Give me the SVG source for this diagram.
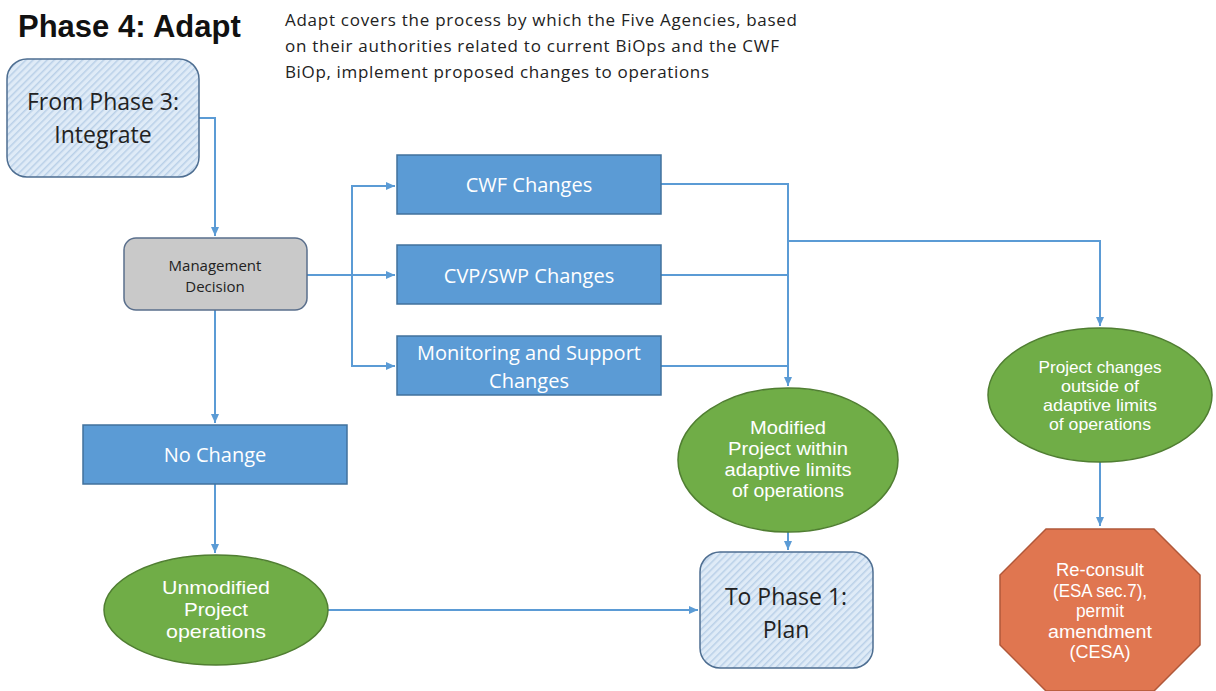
<svg xmlns="http://www.w3.org/2000/svg" width="1216" height="691" viewBox="0 0 1216 691">
<style>
text{font-family:"Open Sans","Liberation Sans",sans-serif;text-anchor:middle}
.conn{fill:none;stroke:#5b9bd5;stroke-width:2}
.blue{fill:#5b9bd5;stroke:#41719c;stroke-width:1.5}
.green{fill:#70ad47;stroke:#507e32;stroke-width:1.5}
.hatch{fill:url(#hp);stroke:#4e6e91;stroke-width:1.5}
.wt{fill:#fff;font-size:20px}
.ws{fill:#fff;font-family:"Liberation Sans",sans-serif}
.bt{fill:#222;font-size:23px}
</style>
<defs>
<pattern id="hp" width="5" height="5" patternUnits="userSpaceOnUse" patternTransform="rotate(45)">
<rect width="5" height="5" fill="#dfebf7"/>
<rect width="1.5" height="5" fill="#b9d0e8"/>
</pattern>
<marker id="ah" markerWidth="10" markerHeight="10" refX="9" refY="5" orient="auto" markerUnits="userSpaceOnUse">
<path d="M0,1 L9,5 L0,9 z" fill="#5b9bd5"/>
</marker>
</defs>
<rect width="1216" height="691" fill="#fff"/>
<g id="title">
<text x="18" y="37" style="text-anchor:start;font-family:'Liberation Sans',sans-serif;font-weight:bold;font-size:31px;fill:#111">Phase 4: Adapt</text>
</g>
<g id="desc" style="font-size:17px;fill:#222">
<text x="285" y="26" style="text-anchor:start" textLength="512">Adapt covers the process by which the Five Agencies, based</text>
<text x="285" y="52" style="text-anchor:start" textLength="494">on their authorities related to current BiOps and the CWF</text>
<text x="285" y="78" style="text-anchor:start" textLength="424">BiOp, implement proposed changes to operations</text>
</g>
<g id="connectors">
<path class="conn" d="M199,118 H215 V236" marker-end="url(#ah)"/>
<path class="conn" d="M307,275 H395" marker-end="url(#ah)"/>
<path class="conn" d="M352,275 V186 H395" marker-end="url(#ah)"/>
<path class="conn" d="M352,275 V366 H395" marker-end="url(#ah)"/>
<path class="conn" d="M661,184 H788 V386" marker-end="url(#ah)"/>
<path class="conn" d="M661,275 H788"/>
<path class="conn" d="M661,366 H788"/>
<path class="conn" d="M788,241 H1100 V326" marker-end="url(#ah)"/>
<path class="conn" d="M1100,462 V526" marker-end="url(#ah)"/>
<path class="conn" d="M788,532 V550" marker-end="url(#ah)"/>
<path class="conn" d="M215,310 V423" marker-end="url(#ah)"/>
<path class="conn" d="M215,484 V553" marker-end="url(#ah)"/>
<path class="conn" d="M328,610 H698" marker-end="url(#ah)"/>
</g>
<g id="from-phase3">
<rect class="hatch" x="7" y="59" width="192" height="118" rx="20"/>
<text class="bt" x="103" y="110">From Phase 3:</text>
<text class="bt" x="103" y="143">Integrate</text>
</g>
<g id="mgmt">
<rect x="124" y="238" width="183" height="72" rx="12" fill="#c9c9c9" stroke="#5a6f8c" stroke-width="1.5"/>
<text x="215" y="271" style="font-size:15px;fill:#222">Management</text>
<text x="215" y="292" style="font-size:15px;fill:#222">Decision</text>
</g>
<g id="cwf">
<rect class="blue" x="397" y="155" width="264" height="59"/>
<text class="wt" x="529" y="192">CWF Changes</text>
</g>
<g id="cvp">
<rect class="blue" x="397" y="245" width="264" height="59"/>
<text class="wt" x="529" y="283">CVP/SWP Changes</text>
</g>
<g id="monitoring">
<rect class="blue" x="397" y="336" width="264" height="59"/>
<text class="wt" x="529" y="360">Monitoring and Support</text>
<text class="wt" x="529" y="388">Changes</text>
</g>
<g id="nochange">
<rect class="blue" x="83" y="425" width="264" height="59"/>
<text class="wt" x="215" y="462">No Change</text>
</g>
<g id="unmodified">
<ellipse class="green" cx="216" cy="610" rx="112" ry="55"/>
<text class="ws" x="216" y="594" style="font-size:19px" textLength="108" lengthAdjust="spacingAndGlyphs">Unmodified</text>
<text class="ws" x="216" y="616" style="font-size:19px" textLength="64" lengthAdjust="spacingAndGlyphs">Project</text>
<text class="ws" x="216" y="638" style="font-size:19px" textLength="100" lengthAdjust="spacingAndGlyphs">operations</text>
</g>
<g id="modified">
<ellipse class="green" cx="788" cy="460" rx="110" ry="72"/>
<text class="ws" x="788" y="434" style="font-size:18px" textLength="76" lengthAdjust="spacingAndGlyphs">Modified</text>
<text class="ws" x="788" y="455" style="font-size:18px" textLength="120" lengthAdjust="spacingAndGlyphs">Project within</text>
<text class="ws" x="788" y="476" style="font-size:18px" textLength="127" lengthAdjust="spacingAndGlyphs">adaptive limits</text>
<text class="ws" x="788" y="497" style="font-size:18px" textLength="112" lengthAdjust="spacingAndGlyphs">of operations</text>
</g>
<g id="outside">
<ellipse class="green" cx="1100" cy="395" rx="112" ry="67"/>
<text class="ws" x="1100" y="373" style="font-size:16.5px" textLength="123" lengthAdjust="spacingAndGlyphs">Project changes</text>
<text class="ws" x="1100" y="392" style="font-size:16.5px" textLength="78" lengthAdjust="spacingAndGlyphs">outside of</text>
<text class="ws" x="1100" y="411" style="font-size:16.5px" textLength="114" lengthAdjust="spacingAndGlyphs">adaptive limits</text>
<text class="ws" x="1100" y="430" style="font-size:16.5px" textLength="102" lengthAdjust="spacingAndGlyphs">of operations</text>
</g>
<g id="tophase1">
<rect class="hatch" x="700" y="552" width="173" height="116" rx="20"/>
<text class="bt" x="786" y="605">To Phase 1:</text>
<text class="bt" x="786" y="638">Plan</text>
</g>
<g id="reconsult">
<polygon points="1046,529 1154,529 1200,575 1200,645 1154,691 1046,691 1000,645 1000,575" fill="#e07650" stroke="#b0583a" stroke-width="1.5"/>
<text class="ws" x="1100" y="576" style="font-size:17.5px" textLength="88" lengthAdjust="spacingAndGlyphs">Re-consult</text>
<text class="ws" x="1100" y="596.5" style="font-size:17.5px" textLength="94" lengthAdjust="spacingAndGlyphs">(ESA sec.7),</text>
<text class="ws" x="1100" y="617" style="font-size:17.5px" textLength="48" lengthAdjust="spacingAndGlyphs">permit</text>
<text class="ws" x="1100" y="637.5" style="font-size:17.5px" textLength="104" lengthAdjust="spacingAndGlyphs">amendment</text>
<text class="ws" x="1100" y="658" style="font-size:17.5px" textLength="61" lengthAdjust="spacingAndGlyphs">(CESA)</text>
</g>
</svg>
